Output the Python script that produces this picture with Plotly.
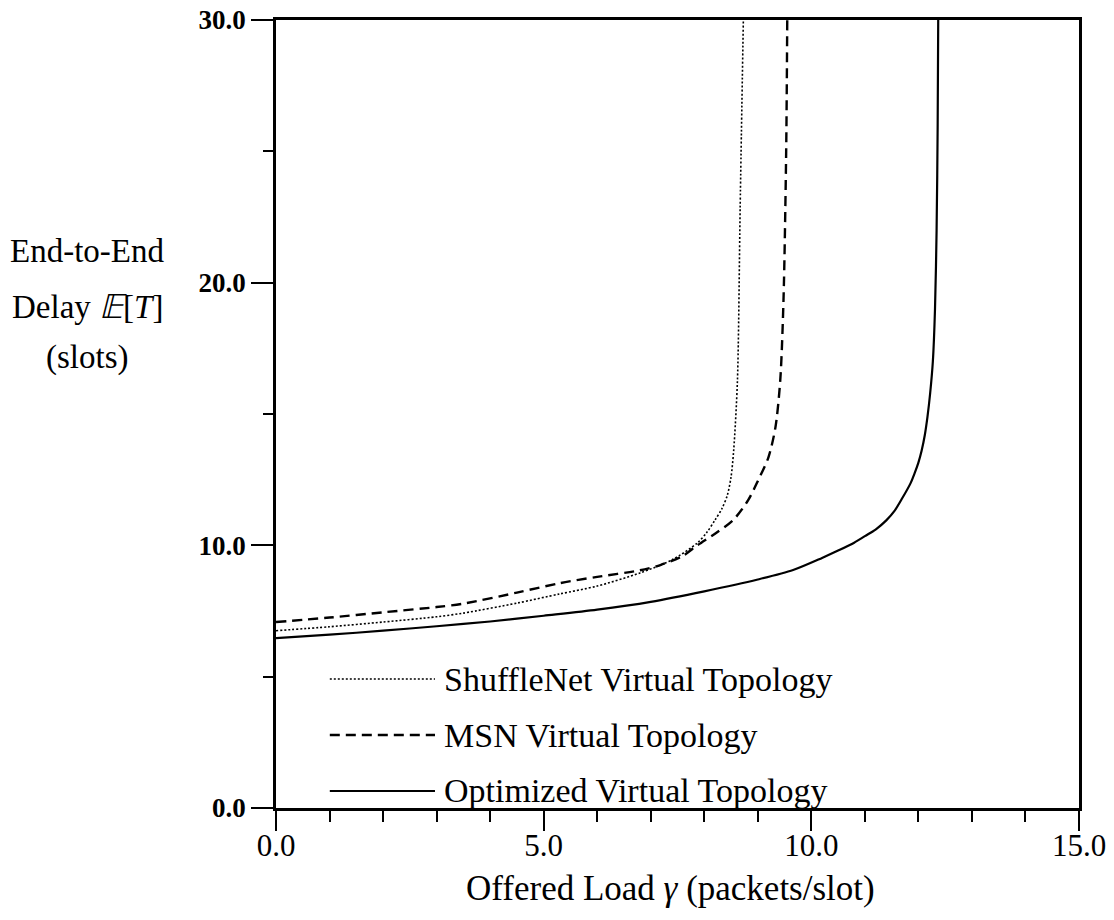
import plotly.graph_objects as go

# ---- data ----
opt_x = [0, 1, 2, 3, 4, 5, 6, 7, 8, 9, 9.66, 10.2, 10.5, 10.8, 11.0, 11.2, 11.4, 11.55, 11.7, 11.85, 11.93,
         12.0, 12.06, 12.12, 12.17, 12.22, 12.27, 12.31, 12.34, 12.36, 12.37]
opt_y = [6.47, 6.6, 6.75, 6.92, 7.1, 7.32, 7.55, 7.85, 8.25, 8.7, 9.06, 9.52, 9.8, 10.1, 10.35, 10.6, 10.95, 11.3, 11.8, 12.35, 12.75,
         13.15, 13.6, 14.2, 14.9, 15.8, 17.0, 19.0, 22.0, 26.0, 30.0]

shuf_x = [0, 1, 2, 3, 3.5, 4.5, 5.3, 6, 6.8, 7.4, 7.87, 8.05, 8.2, 8.33, 8.43, 8.5, 8.55, 8.62, 8.67, 8.73]
shuf_y = [6.75, 6.9, 7.08, 7.28, 7.42, 7.8, 8.15, 8.45, 8.95, 9.45, 10.09, 10.5, 10.96, 11.4, 11.9, 12.6, 13.63, 16.3, 22.8, 30.0]

msn_x = [0, 1, 2, 3, 3.5, 4.5, 5.3, 6, 6.8, 7.18, 7.6, 7.87, 8.24, 8.54, 8.82, 9.01, 9.2, 9.33, 9.42, 9.48, 9.53, 9.55]
msn_y = [7.08, 7.25, 7.45, 7.65, 7.78, 8.2, 8.56, 8.8, 9.05, 9.25, 9.6, 10.0, 10.5, 10.96, 11.72, 12.49, 13.36, 14.5, 16.3, 19.34, 25.0, 30.0]

series_names = ["ShuffleNet Virtual Topology", "MSN Virtual Topology", "Optimized Virtual Topology"]
x_ticks = [0, 5, 10, 15]
x_tick_labels = ["0.0", "5.0", "10.0", "15.0"]
y_ticks = [0, 10, 20, 30]
y_tick_labels = ["<b>0.0</b>", "<b>10.0</b>", "<b>20.0</b>", "<b>30.0</b>"]

FONT = "Liberation Serif"

fig = go.Figure()
styles = [
    dict(color="black", width=1.6, dash="2px,2px"),
    dict(color="black", width=2.4, dash="10px,6px"),
    dict(color="black", width=2.2, dash="solid"),
]
for xs, ys, name, st in zip([shuf_x, msn_x, opt_x], [shuf_y, msn_y, opt_y], series_names, styles):
    fig.add_trace(go.Scatter(x=xs, y=ys, mode="lines", name=name,
                             line=dict(shape="spline", smoothing=0.8, **st), showlegend=False))

# manual legend (inside plot, bottom left)
leg_y = [0.1637, 0.0926, 0.0216]
for yy, name, st in zip(leg_y, series_names, styles):
    fig.add_shape(type="line", xref="paper", yref="paper", x0=0.067, x1=0.198, y0=yy, y1=yy,
                  line=dict(color="black", width=st["width"], dash=st["dash"]))
    fig.add_annotation(xref="paper", yref="paper", x=0.207, y=yy, xanchor="left", yanchor="middle",
                       text=name, showarrow=False, font=dict(family=FONT, size=34, color="black"))

# y-axis title (horizontal, three lines)
for txt, py in zip(["End-to-End", "Delay <i>𝔼</i>[<i>T</i>]", "(slots)"], [251, 307, 357]):
    fig.add_annotation(xref="paper", yref="paper", x=(87 - 276) / 803, y=(808 - py) / 788,
                       xanchor="center", yanchor="middle", text=txt, showarrow=False,
                       font=dict(family=FONT, size=33, color="black"))

# x-axis title
fig.add_annotation(xref="paper", yref="paper", x=(670 - 276) / 803, y=(808 - 889) / 788,
                   xanchor="center", yanchor="middle", text="Offered Load <i>γ</i> (packets/slot)",
                   showarrow=False, font=dict(family=FONT, size=35, color="black"))

fig.update_layout(
    width=1114, height=920,
    margin=dict(l=276, r=35, t=20, b=112, autoexpand=False),
    paper_bgcolor="white", plot_bgcolor="white",
    font=dict(family=FONT, size=28, color="black"),
    xaxis=dict(range=[0, 15], tickmode="array", tickvals=x_ticks, ticktext=x_tick_labels,
               ticks="outside", ticklen=20, tickwidth=2.2, tickcolor="black",
               showline=True, linewidth=2.6, linecolor="black", mirror=True, automargin=False,
               showgrid=False, zeroline=False, ticklabelstandoff=-12,
               minor=dict(dtick=1, ticks="outside", ticklen=11, tickwidth=1.8, tickcolor="black", showgrid=False),
               tickfont=dict(family=FONT, size=31, color="black")),
    yaxis=dict(range=[0, 30], tickmode="array", tickvals=y_ticks, ticktext=y_tick_labels,
               ticks="outside", ticklen=22, tickwidth=2.2, tickcolor="black",
               showline=True, linewidth=2.6, linecolor="black", mirror=True, automargin=False,
               showgrid=False, zeroline=False,
               minor=dict(dtick=5, ticks="outside", ticklen=10, tickwidth=1.8, tickcolor="black", showgrid=False),
               tickfont=dict(family=FONT, size=27, color="black")),
)

fig.write_html("out.html")
